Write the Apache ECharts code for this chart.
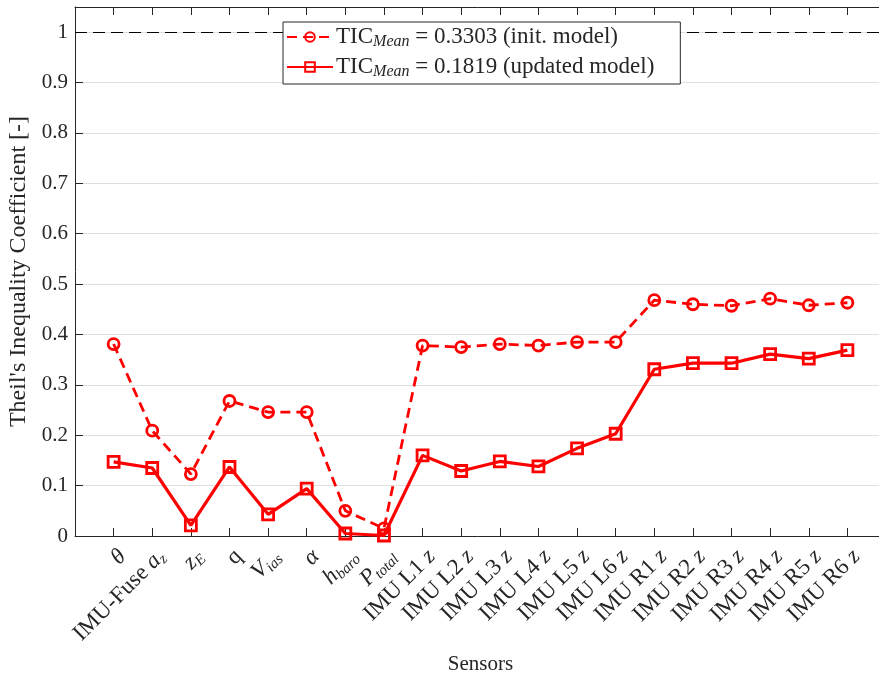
<!DOCTYPE html>
<html>
<head>
<meta charset="utf-8">
<script src="https://cdn.jsdelivr.net/npm/echarts@6/dist/echarts.min.js"></script>
<style>
  html, body { margin: 0; padding: 0; background: #ffffff; }
  #chart { width: 879px; height: 676px; }
</style>
</head>
<body>
<div id="chart"></div>
<script>
// Sensor names (rich-text markup: {it|..} italic, {sub|..} subscript)
const sensorLabels = [
  '{it|θ}',
  'IMU-Fuse {it|a}{sub|z}',
  '{it|z}{sub|E}',
  'q',
  '{it|V}{sub|ias}',
  '{it|α}',
  '{it|h}{sub|baro}',
  '{it|P}{sub|total}',
  'IMU L1 {it|z}',
  'IMU L2 {it|z}',
  'IMU L3 {it|z}',
  'IMU L4 {it|z}',
  'IMU L5 {it|z}',
  'IMU L6 {it|z}',
  'IMU R1 {it|z}',
  'IMU R2 {it|z}',
  'IMU R3 {it|z}',
  'IMU R4 {it|z}',
  'IMU R5 {it|z}',
  'IMU R6 {it|z}'
];

// Theil's inequality coefficient per sensor
const ticInitModel = [
  0.381, 0.209, 0.123, 0.268, 0.246, 0.246, 0.050, 0.015,
  0.378, 0.375, 0.381, 0.378, 0.385, 0.385,
  0.468, 0.460, 0.457, 0.471, 0.458, 0.463
];
const ticUpdatedModel = [
  0.147, 0.135, 0.021, 0.137, 0.043, 0.094, 0.005, 0.001,
  0.160, 0.129, 0.148, 0.138, 0.174, 0.203,
  0.331, 0.343, 0.343, 0.361, 0.352, 0.369
];

const seriesNames = [
  '{n|TIC}{sub|Mean}{n| = 0.3303 (init. model)}',
  '{n|TIC}{sub|Mean}{n| = 0.1819 (updated model)}'
];

const yTicks = [0, 0.1, 0.2, 0.3, 0.4, 0.5, 0.6, 0.7, 0.8, 0.9, 1];
const referenceLevel = 1;

const FONT = '"Liberation Serif", "DejaVu Serif", serif';
const INK = '#262626';
const RED = '#ff0000';

const labelRich = {
  it:  { fontFamily: FONT, fontSize: 23, fontStyle: 'italic', color: INK, lineHeight: 26 },
  sub: { fontFamily: FONT, fontSize: 15, fontStyle: 'italic', color: INK, lineHeight: 10, verticalAlign: 'bottom' }
};

const toPoints = arr => arr.map((v, i) => [i + 1, v]);

const chart = echarts.init(document.getElementById('chart'), null, { renderer: 'canvas' });

chart.setOption({
  animation: false,
  backgroundColor: '#ffffff',
  grid: { left: 75, top: 7, width: 811, height: 529, containLabel: false, outerBoundsMode: 'none' },
  xAxis: [
    {
      type: 'value',
      position: 'bottom',
      min: 0,
      max: sensorLabels.length + 1,
      interval: 1,
      name: 'Sensors',
      nameLocation: 'middle',
      nameGap: 116,
      nameTextStyle: { fontFamily: FONT, fontSize: 21, color: INK },
      axisLine: { show: true, lineStyle: { color: INK, width: 1 } },
      axisTick: { show: true, inside: true, length: 8, lineStyle: { color: INK } },
      splitLine: { show: false },
      axisLabel: {
        rotate: 45,
        margin: 8,
        verticalAlign: 'top',
        fontFamily: FONT,
        fontSize: 23,
        lineHeight: 26,
        color: INK,
        showMinLabel: false,
        showMaxLabel: false,
        formatter: v => sensorLabels[v - 1] || '',
        rich: labelRich
      }
    },
    {
      type: 'value',
      position: 'top',
      min: 0,
      max: sensorLabels.length + 1,
      interval: 1,
      axisLine: { show: true, lineStyle: { color: INK, width: 1 } },
      axisTick: { show: true, inside: true, length: 8, lineStyle: { color: INK } },
      splitLine: { show: false },
      axisLabel: { show: false }
    }
  ],
  yAxis: {
    type: 'value',
    min: yTicks[0],
    max: 1.05,
    interval: 0.1,
    name: "Theil's Inequality Coefficient [-]",
    nameLocation: 'middle',
    nameGap: 41,
    nameTextStyle: { fontFamily: FONT, fontSize: 24, color: INK },
    axisLine: { show: true, lineStyle: { color: INK, width: 1 } },
    axisTick: { show: true, inside: true, length: 8, lineStyle: { color: INK } },
    splitLine: { show: true, lineStyle: { color: '#dfdfdf', width: 1 } },
    axisLabel: {
      margin: 7,
      fontFamily: FONT,
      fontSize: 21,
      color: INK,
      showMaxLabel: false,
      formatter: v => (yTicks.some(t => Math.abs(t - v) < 1e-9) ? String(+v.toFixed(2)) : '')
    }
  },
  legend: {
    orient: 'vertical',
    left: 283,
    top: 22,
    itemWidth: 46,
    itemHeight: 12,
    itemGap: 4,
    padding: [2, 26, 4, 3],
    backgroundColor: '#ffffff',
    borderColor: INK,
    borderWidth: 1,
    borderRadius: 0,
    selectedMode: false,
    textStyle: {
      fontFamily: FONT,
      fontSize: 23,
      color: INK,
      lineHeight: 26,
      padding: [0, 0, 0, -2],
      rich: {
        n:   { fontFamily: FONT, fontSize: 23, color: INK, lineHeight: 26 },
        sub: { fontFamily: FONT, fontSize: 16, fontStyle: 'italic', color: INK, lineHeight: 10, verticalAlign: 'bottom' }
      }
    },
    data: seriesNames
  },
  series: [
    {
      name: seriesNames[0],
      type: 'line',
      data: toPoints(ticInitModel),
      symbol: 'circle',
      symbolSize: 11,
      lineStyle: { color: RED, width: 2.8, type: [10, 6] },
      itemStyle: { color: 'rgba(255,255,255,0)', borderColor: RED, borderWidth: 2.8 },
      z: 3,
      markLine: {
        silent: true,
        symbol: 'none',
        label: { show: false },
        lineStyle: { color: '#000000', width: 1, type: [12, 6] },
        data: [{ yAxis: referenceLevel }],
        z: 2
      }
    },
    {
      name: seriesNames[1],
      type: 'line',
      data: toPoints(ticUpdatedModel),
      symbol: 'rect',
      symbolSize: 11,
      lineStyle: { color: RED, width: 3.2 },
      itemStyle: { color: 'rgba(255,255,255,0)', borderColor: RED, borderWidth: 2.8 },
      z: 3
    }
  ]
});
</script>
</body>
</html>
